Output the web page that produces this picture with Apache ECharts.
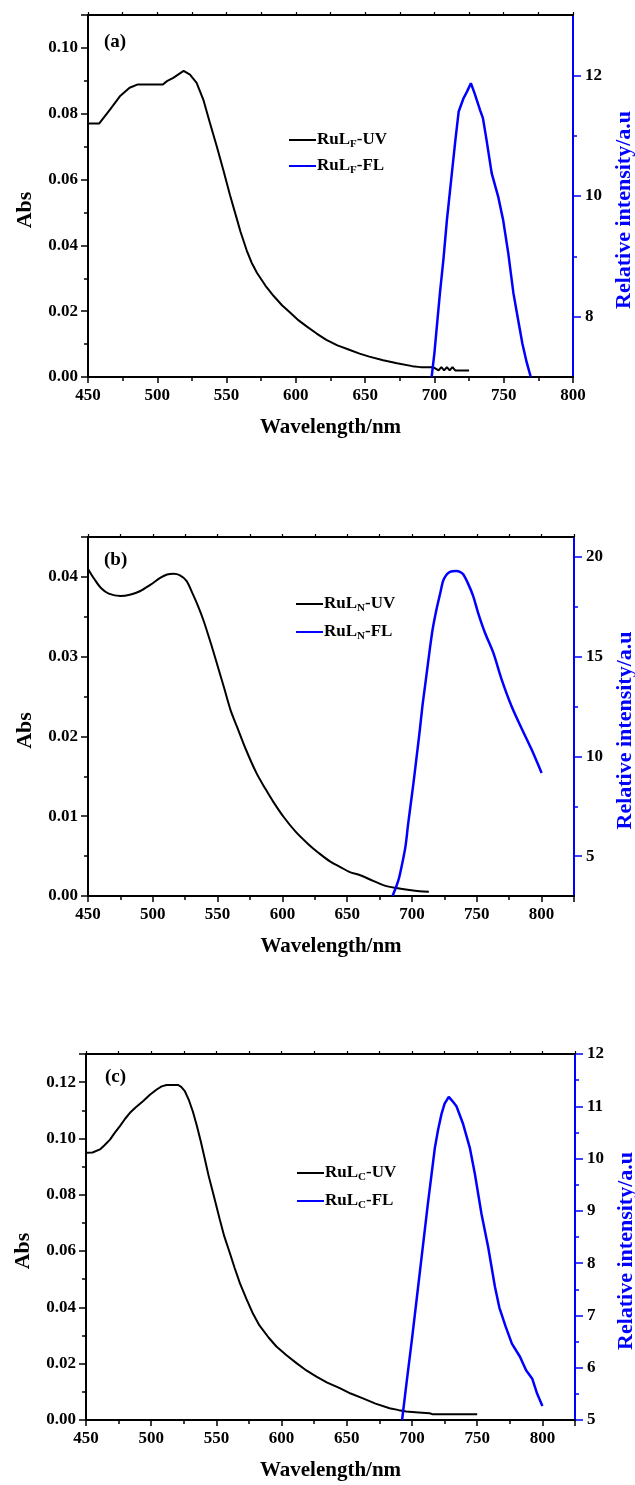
<!DOCTYPE html>
<html>
<head>
<meta charset="utf-8">
<script src="https://cdn.jsdelivr.net/npm/echarts@6/dist/echarts.min.js"></script>
<style>
html,body{margin:0;padding:0;background:#fff;overflow:hidden;}
#chart{width:635px;height:1485px;}
</style>
</head>
<body>
<div id="chart"></div>
<script>
// ---------- Data ----------
// Panel (a) RuL_F
const wlA_UV = [450,458,466,473,480,486,504,507,511.5,515,519,523.6,528.4,533.2,538,542.9,547.6,552.5,557.3,560,564.5,568,572,578,584,590,596,602,608,615,622,630,639,646,653,663,673,684,690,699,703,705,707,709,711,713,715,725];
const absA    = [0.077,0.077,0.0813,0.0853,0.0879,0.0889,0.0889,0.0899,0.0909,0.0919,0.093,0.0919,0.0894,0.0843,0.0772,0.0701,0.063,0.0552,0.0482,0.0442,0.0385,0.0348,0.0316,0.0278,0.0246,0.0218,0.0195,0.0172,0.0153,0.0132,0.0113,0.0096,0.0082,0.0071,0.0062,0.0051,0.0042,0.0033,0.003,0.003,0.002,0.003,0.002,0.003,0.002,0.003,0.002,0.002];
const wlA_FL  = [698,700,702,704,706.5,709,712,715,717.5,721,723.5,726.3,729,733,735,737.6,741.3,746,749.6,753.3,757,760,763.5,766.5,769.5];
const flA     = [7.0,7.4,7.9,8.4,8.95,9.6,10.25,10.9,11.4,11.62,11.73,11.87,11.7,11.42,11.29,10.93,10.38,9.99,9.6,9.05,8.39,8.0,7.55,7.25,7.0];

// Panel (b) RuL_N
const wlB_UV = [450,455,460,466,475,483,490,498,506,511,516,521,526,531,535,539,543,547,551,555,560,565,572,580,587,593,601,610,620,628,637,645,652,660,670,679,688,698,706,713];
const absB    = [0.041,0.0397,0.0386,0.0379,0.0376,0.0378,0.0382,0.039,0.0399,0.0403,0.0404,0.0402,0.0395,0.0378,0.0363,0.0346,0.0326,0.0305,0.0283,0.0261,0.0233,0.0212,0.0183,0.0154,0.0134,0.0118,0.0099,0.0081,0.0065,0.0054,0.0043,0.0036,0.003,0.0026,0.0019,0.0013,0.001,0.00075,0.0006,0.00054];
const wlB_FL  = [685,688,690,693,695,697,699,701,703.6,706,708,710,712,714,716,719,721.5,724,726,728,731,734.4,737,739.5,743,747.2,751,756.3,762.7,769.2,776.9,784.6,792.3,800];
const flB     = [3.0,3.5,3.9,4.8,5.5,6.6,7.6,8.6,10.0,11.3,12.5,13.5,14.5,15.5,16.4,17.4,18.1,18.8,19.05,19.2,19.28,19.3,19.25,19.13,18.7,18.04,17.2,16.2,15.2,13.85,12.5,11.4,10.34,9.17];

// Panel (c) RuL_C
const wlC_UV = [450,455,460.7,464,468.4,472,476,480,483.7,488,493.9,499,504.2,508,511.8,520.7,523,525.8,529,532,535,538,541,544,547.5,552.6,556,560.3,564,568,573,578,583,590,596,604,611.4,619,626.7,635,644.6,653,662.4,672,682.8,690,695.6,705,713.5,716,750];
const absC    = [0.0949,0.095,0.0961,0.0975,0.0996,0.102,0.1044,0.107,0.1091,0.111,0.1133,0.1155,0.1174,0.1185,0.119,0.119,0.1183,0.1168,0.1135,0.1095,0.1045,0.099,0.093,0.0868,0.0805,0.0712,0.0653,0.0593,0.054,0.0486,0.043,0.0378,0.0336,0.0293,0.0261,0.0229,0.0202,0.0176,0.0154,0.0133,0.0113,0.0094,0.0077,0.0058,0.0042,0.0035,0.003,0.0027,0.0024,0.002,0.002];
const wlC_FL  = [692.4,696,700,704,708,712,715,717.5,720,722.6,725,728.2,731,734.1,739.2,744.3,748.2,753.3,758.4,763.6,767,771.9,776.6,782.8,787.5,792.2,796,800];
const flC     = [5.0,5.75,6.55,7.4,8.25,9.1,9.7,10.2,10.55,10.85,11.05,11.18,11.1,11.0,10.66,10.21,9.71,8.94,8.31,7.55,7.15,6.78,6.46,6.21,5.95,5.79,5.5,5.27];

// Axis settings (values / tick labels)
const xMax      = [800, 825, 825];
const absMax    = [0.11, 0.045, 0.13];
const absStep   = [0.02, 0.01, 0.02];
const flMin     = [7, 3, 5];
const flMax     = [13, 21, 12];
const flLabels  = [[8,10,12],[5,10,15,20],[5,6,7,8,9,10,11,12]];
const flMinor   = [[9,11],[7.5,12.5,17.5],[5.5,6.5,7.5,8.5,9.5,10.5,11.5]];
const panelTags = ['(a)','(b)','(c)'];
const subs      = ['F','N','C'];

// ---------- Layout ----------
const grids = [
  {left:88, top:15,   width:485, height:362},
  {left:88, top:537,  width:486, height:359},
  {left:86, top:1054, width:489, height:366}
];
const legendPos = [{left:289, top:130, gap:6},{left:296, top:594, gap:8},{left:297, top:1163, gap:8}];
const tagPos = [{left:104, top:33},{left:104, top:551},{left:105, top:1068}];
const smoothOn = [false, true, false];

const FONT = 'Liberation Serif';
const BLUE = '#0000ff';

const option = {
  animation:false,
  backgroundColor:'#ffffff',
  grid: grids.map(g => Object.assign({containLabel:false, outerBoundsMode:'none'}, g)),
  title: panelTags.map((t,i)=>({text:t, left:tagPos[i].left, top:tagPos[i].top, padding:0,
    textStyle:{fontFamily:FONT, fontWeight:'bold', fontSize:19, color:'#000'}})),
  legend: [0,1,2].map(i=>({
    orient:'vertical', left:legendPos[i].left, top:legendPos[i].top,
    padding:0, itemGap:legendPos[i].gap, itemWidth:27, itemHeight:2, icon:'rect',
    data:[{name:'RuL'+subs[i]+'-UV'},{name:'RuL'+subs[i]+'-FL'}],
    formatter: name => '{m|RuL}{s|'+subs[i]+'}{m|'+name.slice(4)+'}',
    textStyle:{fontFamily:FONT, fontWeight:'bold', fontSize:17, color:'#000', padding:[0,0,0,-4],
      rich:{m:{fontFamily:FONT, fontWeight:'bold', fontSize:17, color:'#000', lineHeight:22},
            s:{fontFamily:FONT, fontWeight:'bold', fontSize:11, color:'#000', lineHeight:22, padding:[9,0,0,0]}}}
  })),
  xAxis: [],
  yAxis: [],
  series: []
};

const lblStyle = {fontFamily:FONT, fontWeight:'bold', fontSize:17, color:'#000'};

[0,1,2].forEach(i=>{
  // bottom x axis
  option.xAxis.push({
    type:'value', gridIndex:i, position:'bottom', min:450, max:xMax[i], interval:50,
    axisLine:{show:true, onZero:false, lineStyle:{color:'#000', width:2}},
    axisTick:{show:true, inside:false, length:6, lineStyle:{color:'#000', width:1.5}},
    minorTick:{show:true, splitNumber:2, length:4, lineStyle:{color:'#000', width:1.5}},
    splitLine:{show:false},
    axisLabel:Object.assign({margin:10, formatter:v => (v % 50 === 0 ? String(v) : '')}, lblStyle),
    name:'Wavelength/nm', nameLocation:'middle', nameGap:40,
    nameTextStyle:{fontFamily:FONT, fontWeight:'bold', fontSize:21, color:'#000'}
  });
  // top x axis (box)
  option.xAxis.push({
    type:'value', gridIndex:i, position:'top', min:450, max:xMax[i], interval:25,
    axisLine:{show:true, onZero:false, lineStyle:{color:'#000', width:2}},
    axisTick:{show:true, inside:false, length:3, lineStyle:{color:'#000', width:1.2}},
    axisLabel:{show:false}, splitLine:{show:false}
  });
  // left y axis (Abs)
  const step = absStep[i];
  option.yAxis.push({
    type:'value', gridIndex:i, position:'left', min:0, max:absMax[i], interval:step,
    axisLine:{show:true, onZero:false, lineStyle:{color:'#000', width:2}},
    axisTick:{show:true, inside:false, length:7, lineStyle:{color:'#000', width:1.5}},
    minorTick:{show:true, splitNumber:2, length:4, lineStyle:{color:'#000', width:1.5}},
    splitLine:{show:false},
    axisLabel:Object.assign({margin:10, formatter:v => {
      const r = v/step; return Math.abs(r-Math.round(r))<1e-6 ? v.toFixed(2) : '';
    }}, lblStyle),
    name:'Abs', nameLocation:'middle', nameGap:52, nameRotate:90,
    nameTextStyle:{fontFamily:FONT, fontWeight:'bold', fontSize:22, color:'#000', padding:[0,28,0,0]}
  });
  // right y axis (FL) main
  option.yAxis.push({
    type:'value', gridIndex:i, position:'right', min:flMin[i], max:flMax[i],
    axisLine:{show:true, onZero:false, lineStyle:{color:BLUE, width:2}},
    axisTick:{show:true, inside:false, length:8, customValues:flLabels[i], lineStyle:{color:BLUE, width:1.5}},
    splitLine:{show:false},
    axisLabel:Object.assign({margin:12, customValues:flLabels[i]}, lblStyle),
    name:'Relative intensity/a.u', nameLocation:'middle', nameGap:37, nameRotate:90,
    nameTextStyle:{fontFamily:FONT, fontWeight:'bold', fontSize:22, color:BLUE, padding:[0,28,0,0]}
  });
  // right y axis minor ticks
  option.yAxis.push({
    type:'value', gridIndex:i, position:'right', min:flMin[i], max:flMax[i],
    axisLine:{show:false},
    axisTick:{show:true, inside:false, length:4, customValues:flMinor[i], lineStyle:{color:BLUE, width:1.5}},
    axisLabel:{show:false}, splitLine:{show:false}
  });
});

const uvSets = [[wlA_UV,absA],[wlB_UV,absB],[wlC_UV,absC]];
const flSets = [[wlA_FL,flA],[wlB_FL,flB],[wlC_FL,flC]];
[0,1,2].forEach(i=>{
  option.series.push({
    name:'RuL'+subs[i]+'-UV', type:'line', xAxisIndex:2*i, yAxisIndex:3*i,
    data: uvSets[i][0].map((x,k)=>[x, uvSets[i][1][k]]),
    symbol:'none', smooth:smoothOn[i] ? 0.3 : false, lineStyle:{color:'#000', width:2}, itemStyle:{color:'#000'}
  });
  option.series.push({
    name:'RuL'+subs[i]+'-FL', type:'line', xAxisIndex:2*i, yAxisIndex:3*i+1,
    data: flSets[i][0].map((x,k)=>[x, flSets[i][1][k]]),
    symbol:'none', smooth:smoothOn[i] ? 0.3 : false, lineStyle:{color:BLUE, width:2.5}, itemStyle:{color:BLUE}
  });
});

const chart = echarts.init(document.getElementById('chart'), null, {renderer:'canvas'});
chart.setOption(option);
</script>
</body>
</html>
